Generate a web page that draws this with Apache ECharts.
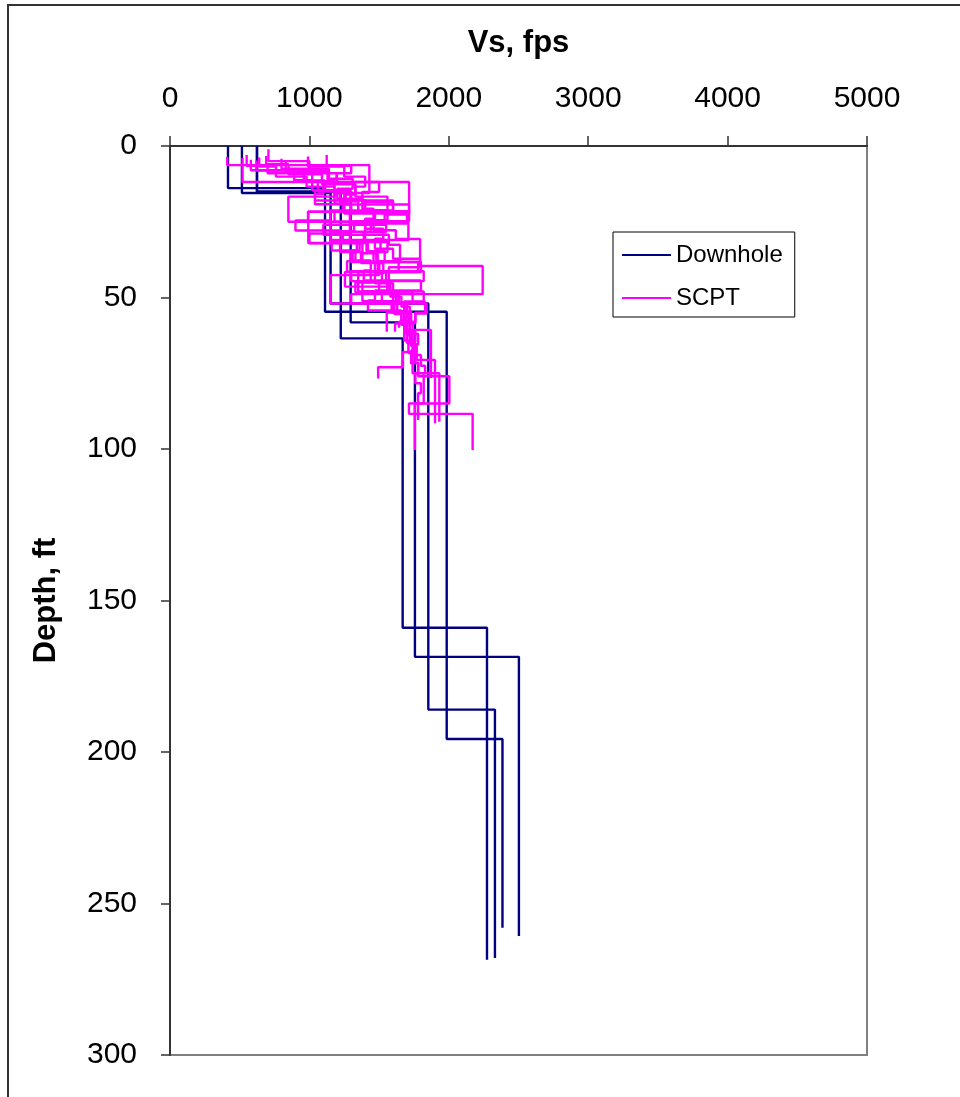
<!DOCTYPE html>
<html>
<head>
<meta charset="utf-8">
<title>Vs profiles</title>
<script src="https://cdn.jsdelivr.net/npm/echarts/dist/echarts.min.js"></script>
<style>
  html, body { margin: 0; padding: 0; background: #fff; overflow: hidden; }
  /* outer chart frame, runs off the right and bottom of the picture */
  #frame { position: absolute; left: 7px; top: 4px; width: 1200px; height: 1300px;
           border: 2px solid #333; box-sizing: border-box; }
  #main { position: absolute; left: 0; top: 0; width: 960px; height: 1097px; }
</style>
</head>
<body>
<div id="frame"></div>
<div id="main"></div>
<script>
// ticks
var vsTicks = [0, 1000, 2000, 3000, 4000, 5000];
var depthTicks = [0, 50, 100, 150, 200, 250, 300];

// downhole profiles: layer boundaries (ft) and Vs (fps) of each layer
var dh1Depth = [0, 15.1, 63.5, 159.0, 268.6];
var dh1Vs    = [624, 1225, 1669, 2274];
var dh2Depth = [0, 15.1, 58.2, 168.6, 260.7];
var dh2Vs    = [624, 1296, 1757, 2503];
var dh3Depth = [0, 15.5, 52.0, 186.0, 268.0];
var dh3Vs    = [516, 1152, 1853, 2331];
var dh4Depth = [0, 13.9, 54.7, 195.7, 258.0];
var dh4Vs    = [416, 1112, 1985, 2385];

// SCPT soundings
var scpt1Depth = [3.6, 6.3, 15.5, 19.0, 22.3, 25.6, 28.9, 32.1, 35.4, 38.7, 42.0, 45.3, 48.6, 51.8, 55.1, 58.4, 61.7, 65.0, 68.2, 71.5, 76.0, 85.0, 88.4, 100.3];
var scpt1Vs    = [410, 1430, 1180, 1250, 1700, 1290, 1000, 1380, 1480, 1530, 1470, 1600, 1640, 1700, 1690, 1740, 1720, 1760, 1740, 1780, 2004, 1714, 2171];
var scpt2Depth = [4.0, 11.9, 21.7, 25.0, 28.3, 31.6, 35.0, 38.3, 41.6, 45.0, 48.3, 51.6, 55.0, 58.3, 61.6, 65.0, 68.3, 71.6, 75.0, 78.3, 81.6, 85.0, 100.3];
var scpt2Vs    = [520, 1715, 990, 1150, 1290, 1220, 1380, 1800, 1350, 1560, 1620, 1590, 1680, 1720, 1700, 1750, 1730, 1780, 1760, 1800, 1779, 1757];
var scpt3Depth = [3.0, 6.5, 9.0, 12.4, 15.8, 19.2, 21.7, 25.0, 31.0, 34.5, 38.0, 41.5, 45.0, 48.5, 52.0, 55.5, 59.0, 62.5, 66.0, 70.6, 91.5];
var scpt3Vs    = [550, 700, 1196, 1100, 1040, 1300, 1180, 1710, 1160, 1330, 1270, 1440, 1380, 1520, 1610, 1660, 1700, 1730, 1770, 1901];
var scpt4Depth = [4.5, 8.0, 11.3, 14.6, 17.9, 21.2, 24.5, 27.8, 30.7, 40.0, 44.8, 48.0, 51.5, 55.0, 58.5, 62.0, 65.5, 69.0, 72.5, 75.0, 91.0];
var scpt4Vs    = [580, 890, 1020, 1250, 1400, 1560, 1460, 1620, 1794, 1570, 1350, 1740, 1830, 1760, 1720, 1780, 1750, 1800, 1830, 1932];
var scpt5Depth = [3.8, 6.8, 10.1, 13.4, 16.7, 25.0, 28.3, 31.6, 35.0, 38.3, 41.6, 45.0, 48.3, 51.6, 55.0, 58.3, 61.6, 65.0, 68.3, 71.6, 75.0, 85.0, 90.4];
var scpt5Vs    = [640, 760, 980, 1180, 849, 1400, 1240, 1340, 1300, 1470, 1550, 1500, 1640, 1600, 1710, 1690, 1740, 1710, 1760, 1740, 1820, 1780];
var scpt6Depth = [3.3, 6.0, 9.3, 12.6, 16.0, 19.3, 22.6, 26.0, 29.3, 32.6, 38.0, 41.3, 44.6, 48.0, 51.3, 54.6, 58.0, 61.3, 64.6, 68.0, 73.0, 76.7];
var scpt6Vs    = [690, 850, 1090, 1330, 1260, 1715, 1540, 1100, 1570, 1650, 1500, 1300, 1580, 1820, 1680, 1730, 1700, 1760, 1740, 1671, 1493];
var scpt7Depth = [1.1, 5.0, 8.3, 11.6, 15.0, 18.3, 21.6, 25.0, 28.3, 31.6, 35.0, 38.3, 41.6, 45.0, 48.3, 51.6, 55.0, 61.3];
var scpt7Vs    = [706, 1000, 1130, 1060, 1220, 1350, 1290, 1440, 1390, 1510, 1460, 1780, 1520, 1330, 1600, 1700, 1555];
var scpt8Depth = [4.2, 7.5, 10.8, 14.1, 17.4, 20.7, 24.0, 27.3, 30.6, 33.9, 37.2, 39.6, 48.9, 52.0, 55.3, 58.6, 61.3];
var scpt8Vs    = [800, 1140, 1310, 1200, 1380, 1460, 1400, 1530, 1470, 1600, 1794, 2243, 1300, 1680, 1720, 1614];
var scpt9Depth = [3.5, 6.8, 10.1, 13.4, 16.7, 21.7, 32.0, 35.3, 38.6, 42.6, 52.0, 55.3, 58.0, 60.0];
var scpt9Vs    = [990, 1250, 1400, 1330, 1560, 992, 1420, 1370, 1500, 1152, 1841, 1760, 1643];
var scpt10Depth = [3.0, 6.5, 9.0, 11.9, 15.2, 18.5, 21.8, 25.1, 28.4, 31.7, 35.0, 38.3, 41.6, 46.4, 49.7, 53.0, 56.3, 60.7, 76.6];
var scpt10Vs    = [1124, 1300, 1196, 1500, 1380, 1600, 1470, 1550, 1400, 1560, 1490, 1640, 1255, 1580, 1660, 1720, 1690, 1872];
var scpt11Depth = [5.0, 8.3, 11.6, 14.9, 18.2, 21.5, 24.8, 28.1, 31.4, 34.7, 38.0, 41.3, 44.6, 47.9, 51.2, 54.5, 57.8, 61.1, 65.0];
var scpt11Vs    = [830, 1020, 1180, 1300, 1240, 1715, 1320, 1150, 1410, 1540, 1490, 1820, 1560, 1380, 1630, 1720, 1680, 1700];
var scpt12Depth = [4.8, 8.1, 11.4, 14.7, 18.0, 21.3, 24.6, 27.9, 31.2, 34.5, 37.8, 41.1, 44.4, 47.7, 51.0, 54.3, 57.6, 60.9, 64.2, 67.5, 72.0];
var scpt12Vs    = [620, 960, 1110, 1040, 1600, 1150, 900, 1230, 1360, 1310, 1440, 1390, 1800, 1470, 1420, 1660, 1700, 1680, 1750, 1730];

var downholeSets = [[dh1Depth, dh1Vs], [dh2Depth, dh2Vs], [dh3Depth, dh3Vs], [dh4Depth, dh4Vs]];
var scptSets = [
  [scpt1Depth, scpt1Vs], [scpt2Depth, scpt2Vs], [scpt3Depth, scpt3Vs], [scpt4Depth, scpt4Vs],
  [scpt5Depth, scpt5Vs], [scpt6Depth, scpt6Vs], [scpt7Depth, scpt7Vs], [scpt8Depth, scpt8Vs],
  [scpt9Depth, scpt9Vs], [scpt10Depth, scpt10Vs], [scpt11Depth, scpt11Vs], [scpt12Depth, scpt12Vs]
];

var FONT = "'Liberation Sans', Arial, sans-serif";

// step profile: every layer is a vertical run from its top to its bottom
function stepPoints(depth, vs) {
  var pts = [];
  for (var i = 0; i < vs.length; i++) {
    pts.push([vs[i], depth[i]]);
    pts.push([vs[i], depth[i + 1]]);
  }
  return pts;
}

function makeSeries(name, color, set) {
  return {
    name: name,
    type: 'line',
    data: stepPoints(set[0], set[1]),
    symbol: 'none',
    silent: true,
    lineStyle: { color: color, width: 2.4 },
    itemStyle: { color: color }
  };
}

var series = [];
downholeSets.forEach(function (s) { series.push(makeSeries('Downhole', '#000080', s)); });
scptSets.forEach(function (s) { series.push(makeSeries('SCPT', '#FF00FF', s)); });

var myChart = echarts.init(document.getElementById('main'));

var option = {
  animation: false,
  grid: {
    left: 170, top: 146, width: 697, height: 909,
    show: true, borderColor: '#808080', borderWidth: 2, backgroundColor: 'transparent'
  },
  legend: {
    orient: 'vertical',
    left: 613, top: 232,
    data: ['Downhole', 'SCPT'],
    icon: 'rect',
    itemWidth: 49, itemHeight: 2,
    itemGap: 17, itemTextGap: 7,
    padding: [10, 12, 6, 9],
    borderColor: '#000', borderWidth: 1,
    textStyle: { fontSize: 24, color: '#000', fontFamily: FONT, lineHeight: 26 }
  },
  xAxis: {
    type: 'value',
    position: 'top',
    min: vsTicks[0], max: vsTicks[vsTicks.length - 1], interval: 1000,
    name: 'Vs, fps',
    nameLocation: 'middle',
    nameGap: 87,
    nameTextStyle: { fontSize: 31, fontWeight: 'bold', color: '#000', fontFamily: FONT },
    axisLine: { lineStyle: { color: '#333', width: 2 } },
    axisTick: { length: 10, lineStyle: { color: '#333', width: 1.5 } },
    axisLabel: { fontSize: 30, color: '#000', margin: 32, fontFamily: FONT,
                 formatter: function (v) { return String(v); } },
    splitLine: { show: false }
  },
  yAxis: {
    type: 'value',
    inverse: true,
    min: depthTicks[0], max: depthTicks[depthTicks.length - 1], interval: 50,
    name: 'Depth, ft',
    nameLocation: 'middle',
    nameGap: 108,
    nameTextStyle: { fontSize: 31, fontWeight: 'bold', color: '#000', fontFamily: FONT },
    axisLine: { lineStyle: { color: '#333', width: 2 } },
    axisTick: { length: 9, lineStyle: { color: '#333', width: 1.5 } },
    axisLabel: { fontSize: 30, color: '#000', margin: 33, fontFamily: FONT,
                 formatter: function (v) { return String(v); } },
    splitLine: { show: false }
  },
  series: series
};

myChart.setOption(option);
</script>
</body>
</html>
